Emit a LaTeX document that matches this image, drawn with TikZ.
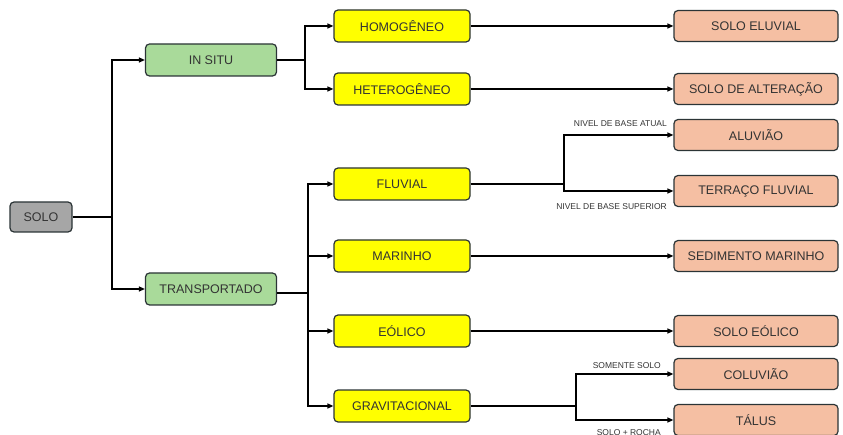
\documentclass[tikz,border=0pt]{standalone}
\usepackage{fontspec}
\setmainfont{Liberation Sans}
\usetikzlibrary{arrows.meta}
\definecolor{gbox}{HTML}{A6A6A6}
\definecolor{grn}{HTML}{A9DA9A}
\definecolor{ylw}{HTML}{FFFF00}
\definecolor{slm}{HTML}{F5BFA3}
\definecolor{edge}{HTML}{2B3436}
\definecolor{txt}{HTML}{333333}
\begin{document}
\begin{tikzpicture}[x=1pt,y=-1pt,
  box/.style={draw=edge,line width=1.2pt,rounded corners=4pt,inner sep=0pt,font=\fontsize{12.5}{14}\selectfont,text=txt},
  solobox/.style={box,fill=gbox,minimum width=62pt,minimum height=30pt},
  gbx/.style={box,fill=grn,minimum width=131pt,minimum height=32pt},
  ybx/.style={box,fill=ylw,minimum width=136pt,minimum height=32pt},
  sbx/.style={box,fill=slm,minimum width=164pt,minimum height=31pt},
  con/.style={line width=1.2pt,black},
  arr/.style={con,-{Triangle[length=6pt,width=5pt]}},
  lbl/.style={font=\fontsize{8.5}{9}\selectfont,text=txt,inner sep=1pt}]
\useasboundingbox (0,0) rectangle (843,435);
\node[solobox] (solo) at (41,217) {SOLO};
\node[gbx] (insitu) at (211,60) {IN SITU};
\node[gbx] (transp) at (211,289) {TRANSPORTADO};
\node[ybx] (homo) at (402,26) {HOMOGÊNEO};
\node[ybx] (hete) at (402,89) {HETEROGÊNEO};
\node[ybx] (fluv) at (402,184) {FLUVIAL};
\node[ybx] (mari) at (402,256) {MARINHO};
\node[ybx] (eoli) at (402,331) {EÓLICO};
\node[ybx] (grav) at (402,406) {GRAVITACIONAL};
\node[sbx] (eluv) at (756,26) {SOLO ELUVIAL};
\node[sbx] (alte) at (756,89) {SOLO DE ALTERAÇÃO};
\node[sbx] (aluv) at (756,135) {ALUVIÃO};
\node[sbx] (terr) at (756,191) {TERRAÇO FLUVIAL};
\node[sbx] (sedm) at (756,256) {SEDIMENTO MARINHO};
\node[sbx] (seol) at (756,331) {SOLO EÓLICO};
\node[sbx] (colu) at (756,374) {COLUVIÃO};
\node[sbx] (talu) at (756,420) {TÁLUS};
% SOLO
\coordinate (j1) at (112,217);
\draw[con] (solo.east) -- (j1);
\draw[arr] (j1) |- (insitu.west);
\draw[arr] (j1) |- (transp.west);
% IN SITU
\coordinate (j2) at (305,60);
\draw[con] (insitu.east) -- (j2);
\draw[arr] (j2) |- (homo.west);
\draw[arr] (j2) |- (hete.west);
% TRANSPORTADO
\coordinate (j3) at (308,293);
\draw[con] ([yshift=-4pt]transp.east) -- (j3);
\draw[arr] (j3) |- (fluv.west);
\draw[arr] (j3) |- (mari.west);
\draw[arr] (j3) |- (eoli.west);
\draw[arr] (j3) |- (grav.west);
% direct
\draw[arr] (homo.east) -- (eluv.west);
\draw[arr] (hete.east) -- (alte.west);
\draw[arr] (mari.east) -- (sedm.west);
\draw[arr] (eoli.east) -- (seol.west);
% FLUVIAL
\coordinate (j4) at (564,184);
\draw[con] (fluv.east) -- (j4);
\draw[arr] (j4) |- (aluv.west);
\draw[arr] (j4) |- (terr.west);
\node[lbl,anchor=south east] (nba) at (668,128) {NIVEL DE BASE ATUAL};
\node[lbl,anchor=north east] (nbs) at (668,202) {NIVEL DE BASE SUPERIOR};
% GRAVITACIONAL
\coordinate (j5) at (576,406);
\draw[con] (grav.east) -- (j5);
\draw[arr] (j5) |- (colu.west);
\draw[arr] (j5) |- (talu.west);
\node[lbl,anchor=south east] (sso) at (662,370) {SOMENTE SOLO};
\node[lbl,anchor=north east] (sro) at (662,428) {SOLO + ROCHA};
\end{tikzpicture}
\end{document}
